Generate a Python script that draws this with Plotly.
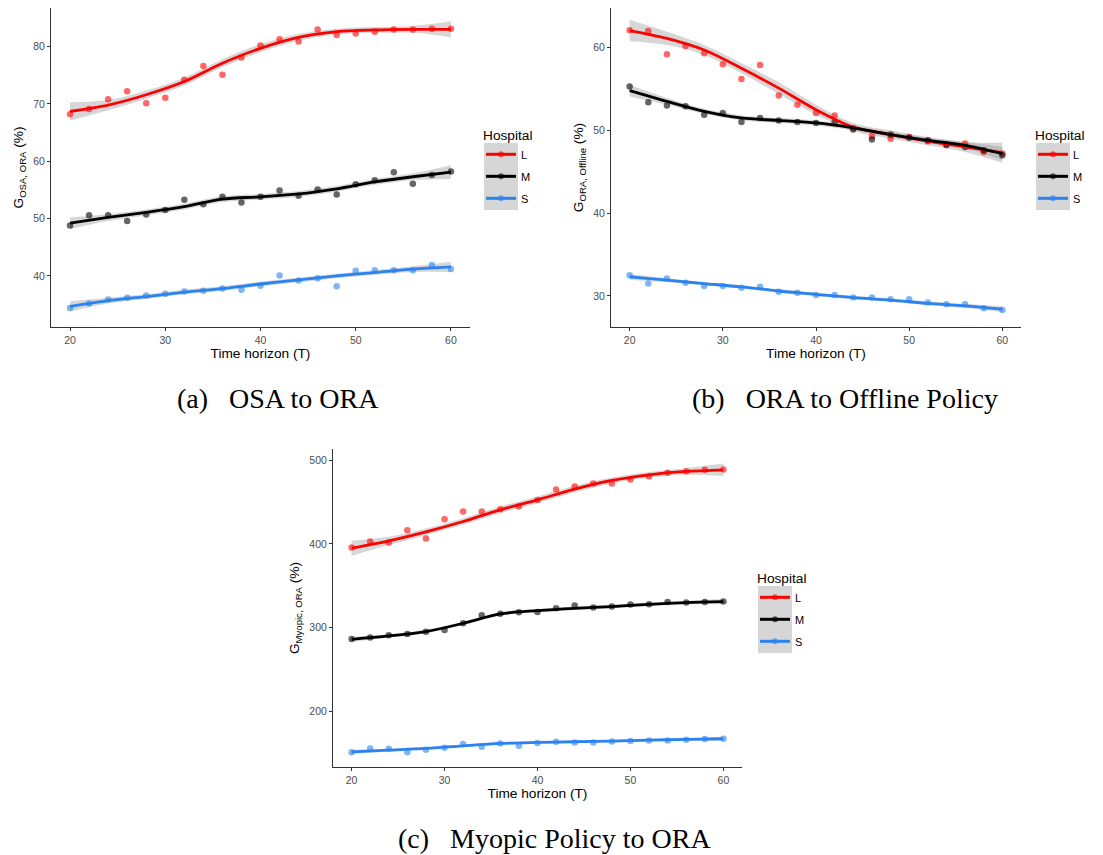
import plotly.graph_objects as go

# ---------------- data ----------------
T = [20, 22, 24, 26, 28, 30, 32, 34, 36, 38, 40, 42, 44, 46, 48, 50, 52, 54, 56, 58, 60]
T_fit = [20, 24, 28, 32, 36, 40, 44, 48, 52, 56, 60]
hospitals = ["L", "M", "S"]

# (a) OSA to ORA
a_L = [68.2, 69.1, 70.8, 72.2, 70.1, 71.1, 74.2, 76.6, 75.1, 78.1, 80.2, 81.3, 80.9, 83.0, 82.0, 82.3, 82.6, 83.0, 83.0, 83.1, 83.1]
a_M = [48.8, 50.6, 50.6, 49.6, 50.7, 51.5, 53.3, 52.5, 53.8, 52.8, 53.8, 54.9, 54.0, 55.1, 54.2, 56.0, 56.7, 58.1, 56.1, 57.6, 58.2]
a_S = [34.4, 35.2, 35.9, 36.2, 36.6, 36.9, 37.3, 37.4, 37.8, 37.6, 38.3, 40.1, 39.2, 39.6, 38.2, 40.9, 41.0, 41.0, 41.0, 41.9, 41.2]
fit_a_L = [68.7, 69.8, 71.6, 73.9, 77.1, 79.7, 81.6, 82.6, 82.9, 83.0, 83.0]
fit_a_M = [49.2, 50.2, 51.1, 52.1, 53.4, 53.8, 54.3, 55.2, 56.4, 57.3, 58.1]
fit_a_S = [34.7, 35.7, 36.4, 37.2, 37.8, 38.6, 39.3, 40.0, 40.6, 41.2, 41.6]
hw_a_L = [1.6, 0.9, 0.7, 0.7, 0.7, 0.7, 0.6, 0.5, 0.5, 0.6, 1.4]
hw_a_M = [1.0, 0.6, 0.5, 0.5, 0.5, 0.5, 0.5, 0.5, 0.5, 0.6, 1.2]
hw_a_S = [0.9, 0.5, 0.4, 0.4, 0.4, 0.4, 0.4, 0.4, 0.4, 0.5, 0.9]

# (b) ORA to Offline Policy
b_L = [62.1, 62.0, 59.2, 60.2, 59.3, 58.0, 56.2, 57.9, 54.2, 53.1, 52.1, 51.8, 50.3, 49.3, 49.0, 49.2, 48.7, 48.2, 48.4, 47.4, 47.2]
b_M = [55.3, 53.4, 53.0, 52.9, 51.9, 52.1, 51.0, 51.5, 51.2, 51.0, 50.9, 51.0, 50.1, 48.9, 49.5, 49.1, 48.8, 48.3, 48.0, 47.6, 47.0]
b_S = [32.5, 31.5, 32.1, 31.6, 31.2, 31.2, 31.0, 31.1, 30.5, 30.4, 30.1, 30.1, 29.8, 29.8, 29.6, 29.6, 29.2, 29.0, 29.0, 28.5, 28.3]
fit_b_L = [62.05, 61.1, 59.7, 57.5, 55.1, 52.5, 50.4, 49.5, 48.7, 48.0, 47.3]
fit_b_M = [54.8, 53.5, 52.3, 51.5, 51.2, 50.9, 50.3, 49.5, 48.8, 48.2, 47.2]
fit_b_S = [32.3, 31.9, 31.5, 31.1, 30.6, 30.2, 29.8, 29.5, 29.1, 28.8, 28.4]
hw_b_L = [1.3, 0.8, 0.6, 0.6, 0.7, 0.6, 0.5, 0.5, 0.5, 0.6, 1.2]
hw_b_M = [0.7, 0.4, 0.3, 0.3, 0.3, 0.3, 0.3, 0.3, 0.3, 0.4, 0.8]
hw_b_S = [0.35, 0.25, 0.2, 0.2, 0.2, 0.2, 0.2, 0.2, 0.2, 0.25, 0.35]

# (c) Myopic Policy to ORA
c_L = [395.7, 402.9, 401.7, 416.5, 406.5, 429.7, 438.9, 438.9, 441.7, 444.9, 452.5, 465.2, 468.8, 472.4, 472.4, 477.2, 480.8, 485.2, 487.2, 488.8, 489.2]
c_M = [286.3, 287.9, 290.7, 292.3, 295.0, 297.0, 305.0, 314.6, 316.6, 318.2, 318.6, 323.0, 326.2, 323.8, 325.0, 327.4, 327.8, 330.6, 329.8, 330.6, 331.0]
c_S = [150.8, 155.2, 154.8, 150.8, 153.6, 156.0, 160.4, 157.2, 161.2, 158.4, 161.6, 163.2, 162.4, 162.4, 163.6, 164.0, 164.8, 164.8, 165.6, 166.4, 166.8]
fit_c_L = [394.9, 403.7, 414.5, 426.9, 440.9, 452.9, 465.6, 476.0, 482.8, 486.8, 488.8]
fit_c_M = [285.9, 289.9, 295.2, 305.0, 316.2, 320.2, 323.0, 325.0, 327.8, 329.8, 331.0]
fit_c_S = [151.2, 153.2, 155.2, 158.4, 161.2, 162.4, 163.2, 164.0, 165.2, 166.0, 166.8]
hw_c_L = [9.0, 5.0, 4.0, 4.0, 4.0, 4.0, 4.0, 3.5, 3.5, 4.0, 7.5]
hw_c_M = [3.0, 2.0, 2.0, 2.0, 2.0, 2.0, 2.0, 2.0, 2.0, 2.0, 3.0]
hw_c_S = [2.5, 1.5, 1.5, 1.5, 1.5, 1.5, 1.5, 1.5, 1.5, 1.5, 2.5]

y_ticks_a = [40, 50, 60, 70, 80]
y_ticks_b = [30, 40, 50, 60]
y_ticks_c = [200, 300, 400, 500]
x_ticks = [20, 30, 40, 50, 60]

captions = ["(a)\u2002 OSA to ORA", "(b)\u2002 ORA to Offline Policy", "(c)\u2002 Myopic Policy to ORA"]
y_titles = ["G<sub>OSA, ORA</sub> (%)", "G<sub>ORA, Offline</sub> (%)", "G<sub>Myopic, ORA</sub> (%)"]

# ---------------- styling ----------------
OFF = 8                      # default page body margin
W, H = 1103 - OFF, 855 - OFF
line_col = {"L": "#FF0000", "M": "#000000", "S": "#2A83F0"}
pt_col = {"L": "rgba(255,0,0,0.6)", "M": "rgba(0,0,0,0.6)", "S": "rgba(42,131,240,0.6)"}
band_col = "rgba(153,153,153,0.4)"
key_bg = "#D6D6D6"
FONT = "Liberation Sans, Arial, sans-serif"


def px_x(p):
    return min(max((p - OFF) / W, 0), 1)


def px_y(p):
    return min(max(1 - (p - OFF) / H, 0), 1)


fig = go.Figure()

panels = [
    dict(ax="", data={"L": a_L, "M": a_M, "S": a_S}, fit={"L": fit_a_L, "M": fit_a_M, "S": fit_a_S},
         hw={"L": hw_a_L, "M": hw_a_M, "S": hw_a_S}, legend="legend"),
    dict(ax="2", data={"L": b_L, "M": b_M, "S": b_S}, fit={"L": fit_b_L, "M": fit_b_M, "S": fit_b_S},
         hw={"L": hw_b_L, "M": hw_b_M, "S": hw_b_S}, legend="legend2"),
    dict(ax="3", data={"L": c_L, "M": c_M, "S": c_S}, fit={"L": fit_c_L, "M": fit_c_M, "S": fit_c_S},
         hw={"L": hw_c_L, "M": hw_c_M, "S": hw_c_S}, legend="legend3"),
]

for p in panels:
    xa, ya = "x" + p["ax"], "y" + p["ax"]
    for h in hospitals:
        f, w = p["fit"][h], p["hw"][h]
        lo = [fv - wv for fv, wv in zip(f, w)]
        hi = [fv + wv for fv, wv in zip(f, w)]
        fig.add_trace(go.Scatter(x=T_fit, y=lo, mode="lines", line=dict(width=0, shape="spline"),
                                 xaxis=xa, yaxis=ya, showlegend=False, hoverinfo="skip"))
        fig.add_trace(go.Scatter(x=T_fit, y=hi, mode="lines", line=dict(width=0, shape="spline"),
                                 fill="tonexty", fillcolor=band_col,
                                 xaxis=xa, yaxis=ya, showlegend=False, hoverinfo="skip"))
    for h in hospitals:
        fig.add_trace(go.Scatter(x=T, y=p["data"][h], mode="markers",
                                 marker=dict(size=6.5, color=pt_col[h], line=dict(width=0)),
                                 xaxis=xa, yaxis=ya, showlegend=False))
    for h in hospitals:
        fig.add_trace(go.Scatter(x=T_fit, y=p["fit"][h], mode="lines",
                                 line=dict(color=line_col[h], width=2.8, shape="spline", smoothing=0.9),
                                 xaxis=xa, yaxis=ya, showlegend=False))
    for h in hospitals:
        fig.add_trace(go.Scatter(x=[None], y=[None], mode="lines+markers", name=h,
                                 line=dict(color=line_col[h], width=3),
                                 marker=dict(size=6, color=pt_col[h]),
                                 xaxis=xa, yaxis=ya, legend=p["legend"], legendgroup=p["legend"] + h))

axis_common = dict(showline=True, linecolor="#333333", linewidth=1, ticks="outside", ticklen=3,
                   tickcolor="#333333", tickwidth=1, showgrid=False, zeroline=False,
                   tickfont=dict(family=FONT, size=10.5, color="#4D4D4D"))
xtitle = dict(text="Time horizon (T)", font=dict(family=FONT, size=13.7, color="#000000"), standoff=2)


def ytitle(t):
    return dict(text=t, font=dict(family=FONT, size=13.7, color="#000000"), standoff=6)


fig.update_layout(
    width=W, height=H, margin=dict(l=0, r=0, t=0, b=0),
    paper_bgcolor="white", plot_bgcolor="white",
    xaxis=dict(domain=[px_x(51), px_x(470)], anchor="y", range=[18, 62], tickvals=x_ticks, title=xtitle, **axis_common),
    yaxis=dict(domain=[px_y(327), px_y(8)], anchor="x", range=[31.1, 86.73], tickvals=y_ticks_a,
               title=ytitle(y_titles[0]), **axis_common),
    xaxis2=dict(domain=[px_x(611), px_x(1021)], anchor="y2", range=[18, 62], tickvals=x_ticks, title=xtitle, **axis_common),
    yaxis2=dict(domain=[px_y(327), px_y(8)], anchor="x2", range=[26.25, 64.78], tickvals=y_ticks_b,
                title=ytitle(y_titles[1]), **axis_common),
    xaxis3=dict(domain=[px_x(333), px_x(742)], anchor="y3", range=[18, 62], tickvals=x_ticks, title=xtitle, **axis_common),
    yaxis3=dict(domain=[px_y(767), px_y(449)], anchor="x3", range=[133, 513.7], tickvals=y_ticks_c,
                title=ytitle(y_titles[2]), **axis_common),
)

leg_common = dict(xanchor="left", yanchor="top", bgcolor="rgba(0,0,0,0)", borderwidth=0,
                  font=dict(family=FONT, size=11, color="#000000"), itemwidth=30,
                  tracegroupgap=3, traceorder="grouped",
                  title=dict(text="Hospital", font=dict(family=FONT, size=13.7, color="#000000")))
legend_pos = [(481, 122, 143, 210), (1033, 122, 143, 210), (755, 565, 586, 653)]
fig.update_layout(
    legend=dict(x=px_x(legend_pos[0][0]), y=px_y(legend_pos[0][1]), **leg_common),
    legend2=dict(x=px_x(legend_pos[1][0]), y=px_y(legend_pos[1][1]), **leg_common),
    legend3=dict(x=px_x(legend_pos[2][0]), y=px_y(legend_pos[2][1]), **leg_common),
)

# grey key background behind legend keys (as ggplot draws with se band)
for lx, ly, by0, by1 in legend_pos:
    fig.add_shape(type="rect", xref="paper", yref="paper",
                  x0=px_x(lx + 3), x1=px_x(lx + 37), y0=px_y(by1), y1=px_y(by0),
                  fillcolor=key_bg, line=dict(width=0), layer="below")

# captions
for txt, cx, cy in zip(captions, [278, 845, 554], [399, 399, 838]):
    fig.add_annotation(text=txt, x=px_x(cx), y=px_y(cy), xref="paper", yref="paper",
                       showarrow=False, xanchor="center", yanchor="middle",
                       font=dict(family="Liberation Serif, Times New Roman, serif", size=28, color="#000000"))

fig.write_html("out.html")
